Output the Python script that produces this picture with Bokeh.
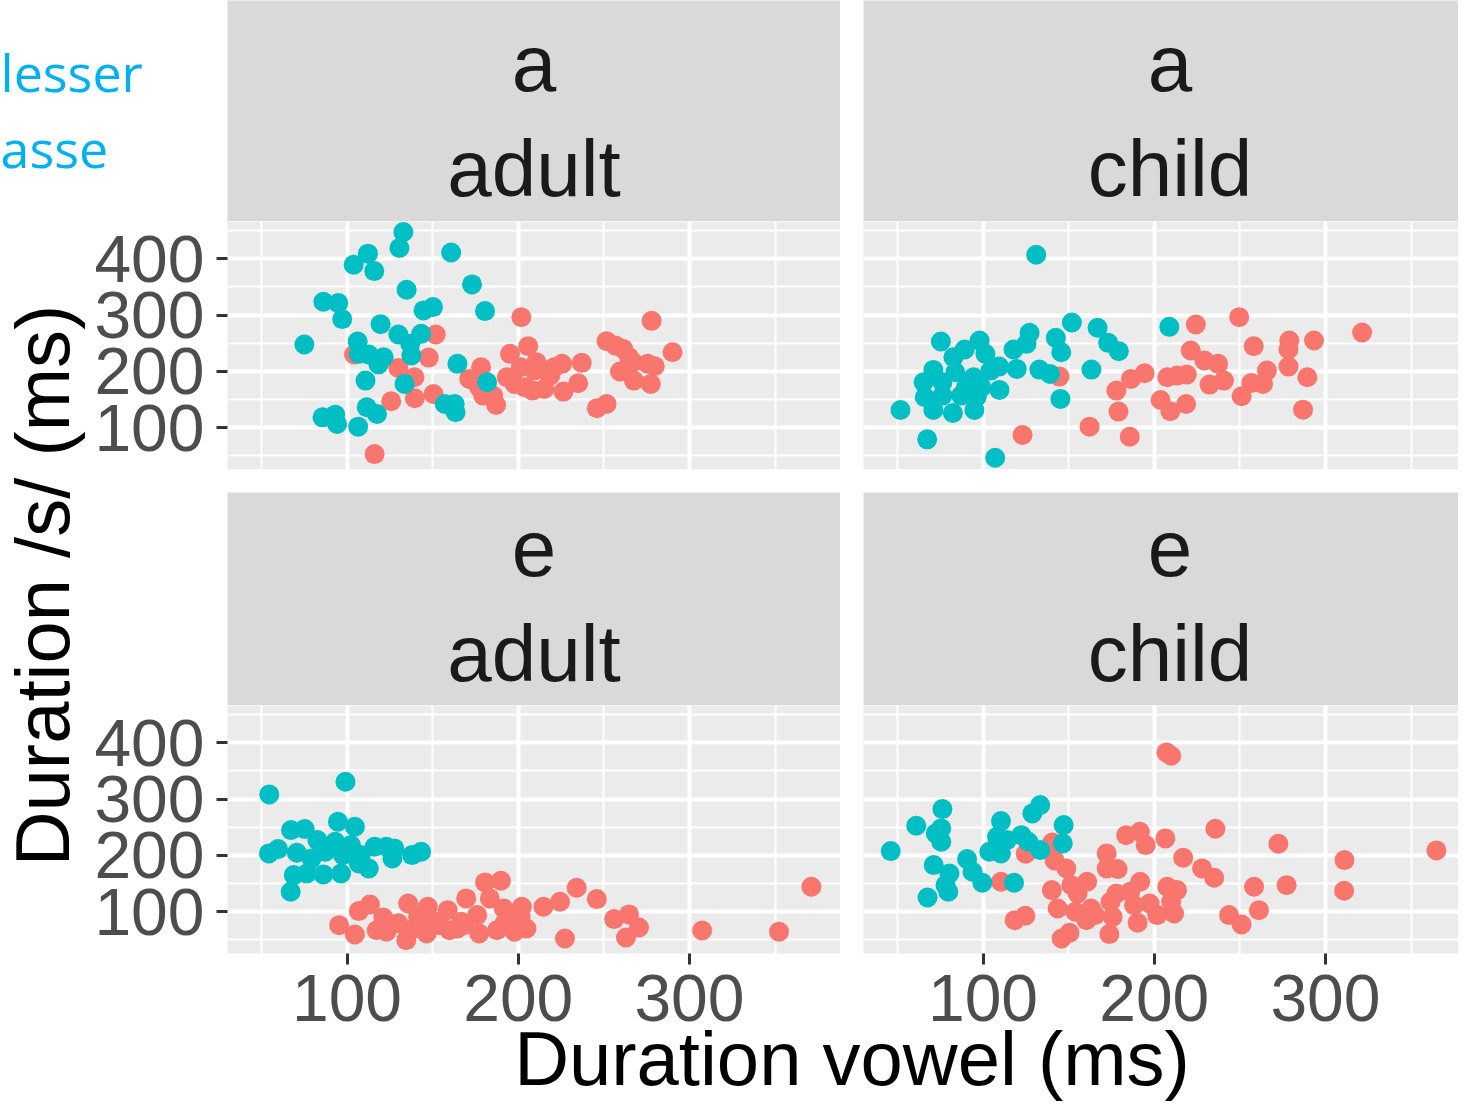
import math
from bokeh.plotting import figure
from bokeh.layouts import row, column, Spacer
from bokeh.models import Range1d, FixedTicker, Label
from bokeh.embed import file_html
from bokeh.resources import INLINE

# ---------------- data (ms) ----------------
vowels = ["a", "a", "e", "e"]
speakers = ["adult", "child", "adult", "child"]
legend_labels = ["lesser", "asse"]
x_title = "Duration vowel (ms)"
y_title = "Duration /s/ (ms)"

x_ticks = [100, 200, 300]
x_minor = [50, 150, 250, 350]
y_ticks = [100, 200, 300, 400]
y_minor = [50, 150, 250, 350, 450]

# a / adult
a_adult_teal_x = [132.9, 130.6, 112.2, 103.9, 115.9, 160.8, 134.8, 173.0, 180.6, 86.2, 94.9, 97.2, 144.7, 150.2,
                  119.6, 75.1, 106.2, 130.0, 143.3, 136.9, 106.9, 112.7, 121.4, 118.4, 137.6, 164.5, 110.8, 133.6,
                  181.8, 85.7, 93.1, 94.2, 106.5, 111.5, 117.5, 157.1, 162.9, 163.4]
a_adult_teal_y = [447.4, 419.0, 408.9, 389.3, 378.0, 411.0, 344.9, 354.4, 307.0, 323.6, 321.2, 292.8, 308.2, 314.1,
                  283.9, 247.7, 253.0, 265.5, 266.7, 249.0, 231.2, 230.0, 225.2, 212.2, 228.2, 213.4, 183.8, 177.8,
                  180.8, 118.6, 123.3, 106.8, 102.0, 136.4, 124.5, 142.3, 142.3, 127.5]
a_adult_red_x = [201.8, 277.9, 151.8, 147.7, 104.1, 130.0, 139.4, 125.8, 139.6, 150.5, 116.1, 205.8, 195.2, 178.3,
                 171.4, 177.2, 179.5, 185.3, 187.1, 193.3, 197.9, 203.7, 208.3, 215.2, 210.6, 209.4, 221.0, 225.6,
                 237.1, 226.4, 235.0, 245.9, 251.6, 251.6, 256.7, 261.3, 264.7, 267.0, 259.4, 267.5, 275.6, 279.7,
                 277.4, 290.1, 218.7, 201.4]
a_adult_red_y = [296.3, 289.8, 265.5, 224.6, 230.0, 206.3, 189.7, 147.0, 152.4, 160.0, 53.4, 244.8, 231.2, 207.5,
                 186.7, 171.9, 157.1, 157.1, 140.5, 189.7, 177.8, 171.9, 166.0, 168.9, 216.4, 201.5, 207.5, 213.4,
                 215.2, 164.2, 179.0, 134.6, 142.3, 253.7, 246.0, 240.0, 225.2, 216.4, 199.8, 183.8, 213.4, 209.2,
                 177.8, 234.1, 192.7, 207.5]

# a / child
a_child_teal_x = [131.1, 151.9, 166.9, 208.8, 142.5, 145.7, 173.1, 179.3, 127.2, 125.4, 117.8, 98.0, 101.4, 75.4,
                  89.3, 82.7, 109.4, 119.7, 132.9, 139.1, 163.3, 145.2, 71.0, 83.8, 65.3, 76.3, 94.5, 99.1, 90.0,
                  66.0, 76.3, 87.2, 96.4, 109.6, 71.0, 82.4, 95.0, 51.8, 67.4, 107.1, 104.4]
a_child_teal_y = [407.1, 286.8, 277.4, 279.1, 259.6, 234.1, 250.7, 235.9, 268.5, 249.0, 238.9, 254.9, 231.2, 253.1,
                  238.9, 225.2, 208.6, 204.5, 203.3, 195.6, 203.3, 151.2, 202.7, 198.6, 180.8, 180.8, 189.7, 171.9,
                  171.9, 154.1, 157.1, 157.1, 155.3, 167.2, 131.6, 126.3, 131.6, 131.6, 79.5, 46.9, 201.5]
a_child_red_x = [249.6, 224.3, 321.4, 278.9, 293.3, 278.4, 258.1, 221.3, 229.3, 237.3, 278.4, 265.8, 240.7, 232.3,
                 256.7, 263.5, 289.4, 251.0, 286.9, 194.4, 186.4, 207.6, 219.0, 213.3, 177.9, 203.7, 218.6, 209.4,
                 179.1, 144.6, 162.2, 185.7, 123.1]
a_child_red_y = [296.3, 283.3, 269.1, 254.9, 254.9, 238.9, 244.8, 237.1, 219.3, 213.4, 208.6, 201.5, 183.8, 176.7,
                 179.6, 177.8, 189.7, 155.9, 132.2, 196.8, 186.7, 189.7, 194.4, 192.6, 166.0, 149.4, 142.3, 129.3,
                 128.7, 190.9, 102.0, 84.2, 87.2]

# e / adult
e_adult_teal_x = [54.6, 99.1, 94.7, 104.6, 67.3, 75.3, 82.7, 59.7, 54.4, 70.7, 79.3, 87.3, 93.1, 102.3, 108.1,
                  116.1, 123.0, 127.6, 126.5, 138.0, 143.3, 112.7, 96.5, 86.2, 76.5, 68.9, 67.1, 106.9, 97.7]
e_adult_teal_y = [308.3, 330.8, 259.8, 250.9, 245.0, 246.7, 227.2, 211.2, 203.6, 204.7, 194.7, 206.5, 224.3, 218.3,
                  200.6, 215.4, 215.4, 212.4, 194.7, 200.6, 206.5, 176.9, 168.0, 166.3, 168.0, 165.1, 135.5, 185.8,
                  200.6]
e_adult_red_x = [371.2, 307.4, 352.3, 180.6, 189.9, 234.1, 245.9, 224.4, 214.7, 202.1, 191.5, 183.4, 169.6, 158.8,
                 147.2, 135.7, 113.4, 106.9, 95.4, 104.6, 117.3, 123.0, 121.2, 134.6, 146.5, 159.9, 177.2, 187.6,
                 197.9, 204.8, 227.3, 256.0, 264.7, 270.5, 262.9, 176.0, 166.8, 151.8, 141.5, 130.0, 164.5, 191.9,
                 139.2, 154.1, 168.4, 201.4]
e_adult_red_y = [144.4, 66.9, 64.7, 152.1, 155.0, 142.6, 122.5, 117.8, 108.9, 108.9, 105.9, 123.7, 123.7, 102.9,
                 108.9, 114.8, 113.0, 101.2, 76.3, 59.8, 67.3, 64.5, 89.9, 49.7, 61.5, 67.3, 61.5, 67.3, 64.5, 70.4,
                 52.7, 87.0, 95.3, 72.2, 54.4, 94.1, 82.2, 82.2, 91.1, 79.5, 70.4, 79.5, 70.4, 76.3, 76.3, 91.1]

# e / child
e_child_teal_x = [76.3, 61.0, 46.1, 75.6, 72.4, 75.6, 110.5, 108.2, 113.9, 122.4, 126.5, 128.8, 133.4, 147.1, 146.6,
                  133.4, 103.7, 110.5, 71.2, 80.4, 90.7, 93.9, 99.6, 118.1, 78.1, 79.7, 67.6]
e_child_teal_y = [282.2, 252.7, 207.7, 247.9, 239.0, 224.3, 260.9, 233.1, 227.2, 236.0, 224.3, 274.6, 289.3, 253.8,
                  221.3, 209.5, 206.5, 203.6, 182.8, 168.0, 193.5, 171.0, 151.5, 151.5, 147.3, 135.5, 125.4]
e_child_red_x = [207.1, 209.9, 235.7, 272.5, 364.8, 311.1, 310.9, 277.3, 258.3, 261.1, 243.7, 251.0, 206.5, 183.6,
                 191.6, 195.0, 216.9, 227.9, 235.0, 140.5, 124.9, 141.8, 148.7, 172.2, 172.2, 178.6, 160.8, 151.6,
                 140.2, 155.2, 110.5, 191.8, 177.9, 185.9, 207.6, 213.3, 209.9, 174.5, 197.3, 143.6, 153.9, 163.1,
                 165.4, 160.4, 175.7, 190.3, 201.7, 211.6, 118.5, 124.7, 145.9, 150.5, 173.8, 188.2]
e_child_red_y = [382.8, 376.9, 247.3, 220.7, 208.9, 191.7, 137.3, 147.3, 144.4, 102.9, 94.1, 77.5, 230.2, 236.0,
                 242.0, 218.3, 195.9, 177.0, 160.4, 223.0, 202.9, 191.1, 176.9, 203.6, 176.9, 175.7, 153.3, 147.3,
                 138.5, 132.5, 153.3, 153.3, 132.5, 135.5, 144.4, 138.5, 117.8, 117.8, 114.8, 105.9, 100.0, 105.9,
                 94.1, 85.2, 91.1, 80.5, 94.1, 97.0, 85.2, 92.9, 52.7, 62.7, 60.4, 111.8]

# ---------------- style / geometry ----------------
FONT = "Liberation Sans"
TEAL = "#00BFC4"
RED = "#F8766D"
PANEL_BG = "#EBEBEB"
STRIP_BG = "#D9D9D9"

X_LO, X_HI = 30.2, 388.2
Y_LO, Y_HI = 26.0, 466.0

TOTAL_W, TOTAL_H = 1458, 1101
WL = 90            # y-title column
WA = 137           # y-axis area
PW_L = 613         # left panel frame width
GAP = 23
PW_R = TOTAL_W - WL - WA - PW_L - GAP   # right panel (cropped at page edge)
STRIP1_H = 221
STRIP2_H = 213
PH = 248
HX = 100
BASE_FIX = 0.365   # label baseline correction (em)


def lab(x, y, text, size, color, font=FONT, align="center", angle=0.0):
    return Label(x=x, y=y, x_units="screen", y_units="screen", text=text, angle=angle,
                 text_align=align, text_baseline="alphabetic", text_font=font,
                 text_font_size=f"{size}px", text_color=color)


def style_axis(ax, dim):
    ax.ticker = FixedTicker(ticks=x_ticks if dim == "x" else y_ticks)
    ax.axis_line_color = None
    ax.major_tick_line_color = "#333333"
    ax.major_tick_line_width = 3
    ax.major_tick_out = 11
    ax.major_tick_in = 0
    ax.minor_tick_line_color = None
    ax.major_label_text_font = FONT
    ax.major_label_text_font_size = "66px"
    ax.major_label_text_color = "#4D4D4D"
    ax.major_label_standoff = 10 if dim == "x" else 12


def make_panel(tx, ty, rx, ry, frame_w, show_y, show_x):
    x_hi = X_LO + (X_HI - X_LO) * frame_w / PW_L
    w = frame_w + (WA if show_y else 0)
    h = PH + (HX if show_x else 0)
    p = figure(width=w, height=h,
               x_range=Range1d(X_LO, x_hi), y_range=Range1d(Y_LO, Y_HI),
               output_backend="svg", toolbar_location=None,
               x_axis_location="below" if show_x else None,
               y_axis_location="left" if show_y else None,
               min_border_left=WA if show_y else 0, min_border_right=0,
               min_border_top=0, min_border_bottom=HX if show_x else 0)
    p.background_fill_color = PANEL_BG
    p.border_fill_color = "white"
    p.outline_line_color = None
    p.xgrid.ticker = FixedTicker(ticks=x_ticks, minor_ticks=x_minor)
    p.ygrid.ticker = FixedTicker(ticks=y_ticks, minor_ticks=y_minor)
    for g in (p.xgrid, p.ygrid):
        g.grid_line_color = "white"
        g.grid_line_width = 4
        g.minor_grid_line_color = "white"
        g.minor_grid_line_width = 2
    if show_x:
        style_axis(p.xaxis[0], "x")
    if show_y:
        style_axis(p.yaxis[0], "y")
    p.scatter(rx, ry, size=20, fill_color=RED, line_color=None)
    p.scatter(tx, ty, size=20, fill_color=TEAL, line_color=None)
    return p


def blank(width, height, bg="white"):
    f = figure(width=width, height=height, x_range=Range1d(0, 1), y_range=Range1d(0, 1),
               output_backend="svg", toolbar_location=None,
               x_axis_location=None, y_axis_location=None, min_border=0)
    f.background_fill_color = bg
    f.border_fill_color = "white"
    f.outline_line_color = None
    f.grid.visible = False
    return f


def make_strip(width, height, line1, line2, cx, b1, b2):
    s = blank(width, height, STRIP_BG)
    fix = BASE_FIX * 80
    s.add_layout(lab(cx, height - b1 + fix, line1, 80, "#1A1A1A"))
    s.add_layout(lab(cx, height - b2 + fix, line2, 80, "#1A1A1A"))
    return s


cx_l = PW_L / 2
cx_r = 306.5

strip_tl = make_strip(PW_L, STRIP1_H, vowels[0], speakers[0], cx_l, 92, 197)
strip_tr = make_strip(PW_R, STRIP1_H, vowels[1], speakers[1], cx_r, 92, 197)
strip_bl = make_strip(PW_L, STRIP2_H, vowels[2], speakers[2], cx_l, 85, 190)
strip_br = make_strip(PW_R, STRIP2_H, vowels[3], speakers[3], cx_r, 85, 190)

panel_tl = make_panel(a_adult_teal_x, a_adult_teal_y, a_adult_red_x, a_adult_red_y, PW_L, True, False)
panel_tr = make_panel(a_child_teal_x, a_child_teal_y, a_child_red_x, a_child_red_y, PW_R, False, False)
panel_bl = make_panel(e_adult_teal_x, e_adult_teal_y, e_adult_red_x, e_adult_red_y, PW_L, True, True)
panel_br = make_panel(e_child_teal_x, e_child_teal_y, e_child_red_x, e_child_red_y, PW_R, False, True)

# legend fragment (top-left corner)
legend_fig = blank(WL + WA, STRIP1_H)
legend_fig.add_layout(lab(0, STRIP1_H - 90 + BASE_FIX * 52, legend_labels[0], 52, "#00B0F0",
                          font="Open Sans", align="left"))
legend_fig.add_layout(lab(0, STRIP1_H - 166 + BASE_FIX * 52, legend_labels[1], 52, "#00B0F0",
                          font="Open Sans", align="left"))

# y title column
lower_h = PH + GAP + STRIP2_H + PH + HX
ytitle_fig = blank(WL, lower_h)
ytitle_fig.add_layout(lab(70 - BASE_FIX * 76, lower_h - (585 - STRIP1_H), y_title, 76, "black",
                          angle=math.pi / 2))

# x title (overlaps the empty lower part of the axis area)
XLAB_TOP = 1010
xlab_h = TOTAL_H - XLAB_TOP
xlab = blank(TOTAL_W, xlab_h)
xlab.background_fill_alpha = 0
xlab.border_fill_alpha = 0
xlab.margin = (XLAB_TOP - (STRIP1_H + lower_h), 0, 0, 0)
xlab.add_layout(lab(851.5, TOTAL_H - 1086 + BASE_FIX * 76, x_title, 76, "black"))

panels = column(
    row(panel_tl, Spacer(width=GAP, height=PH), panel_tr),
    Spacer(width=TOTAL_W - WL, height=GAP),
    row(Spacer(width=WA, height=STRIP2_H), strip_bl, Spacer(width=GAP, height=STRIP2_H), strip_br),
    row(panel_bl, Spacer(width=GAP, height=PH + HX), panel_br),
)

layout = column(
    row(legend_fig, strip_tl, Spacer(width=GAP, height=STRIP1_H), strip_tr),
    row(ytitle_fig, panels),
    xlab,
)

open("out.html", "w").write(file_html(layout, INLINE))
